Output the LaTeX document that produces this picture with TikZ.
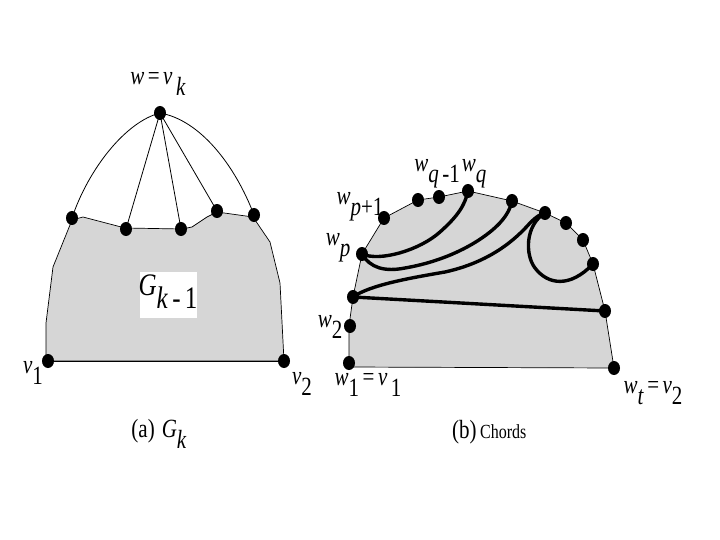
\documentclass[tikz,border=0pt]{standalone}
\usepackage{graphicx}
\usepackage{fontspec}
\setmainfont{Liberation Serif}
\usetikzlibrary{shapes.geometric}
\newcommand{\sbx}[1]{\raisebox{-0.42em}{#1}}
\newcommand{\tl}[1]{\scalebox{1}[1.25]{#1}}
\tikzset{
  dot/.style={ellipse,fill=black,inner sep=0pt,minimum width=12pt,minimum height=14pt},
  lab/.style={inner sep=0pt,font=\fontsize{21}{21}\selectfont},
  region/.style={fill=black!16,draw=black,line width=0.7pt,line join=round},
  thin edge/.style={draw=black,line width=0.8pt},
  chord/.style={draw=black,line width=3.4pt,line cap=round,line join=round}
}
\begin{document}
\begin{tikzpicture}[x=1pt,y=-1pt]
\useasboundingbox (0,0) rectangle (720,540);
% ---------- (a) ----------
\path[region] (46,361) -- (46,323) -- (53,267) -- (72,220) -- (83,217) -- (125,228)
  -- (182,229) -- (192,227) -- (207,217) -- (217,212) -- (253,217) -- (270,242)
  -- (280,283) -- (284,361) -- cycle;
\node[fill=white,minimum width=57pt,minimum height=46pt,inner sep=0pt] (gbox) at (168,295) {};
\node[lab,font=\fontsize{25}{25}\selectfont] (glab) at (168,292) {\tl{\textit{G}\sbx{\textit{k}\,-\,1}}};
\node[dot] (wk) at (160,113) {};
\node[dot] (a1) at (72,218) {};
\node[dot] (a2) at (126,229) {};
\node[dot] (a3) at (181,229) {};
\node[dot] (a4) at (217,211) {};
\node[dot] (a5) at (254,215) {};
\node[dot] (av1) at (48,361) {};
\node[dot] (av2) at (284,361) {};
\draw[thin edge] (wk.center) .. controls (125,122) and (88,170) .. (a1.center);
\draw[thin edge] (wk.center) .. controls (200,120) and (235,165) .. (a5.center);
\draw[thin edge] (wk.center) -- (a2.center);
\draw[thin edge] (wk.center) -- (a3.center);
\draw[thin edge] (wk.center) -- (a4.center);
\draw[thin edge] (av1.center) -- (av2.center);
\node[lab] (lwk) at (158,84) {\tl{\textit{w}\,=\,\textit{v}\,\sbx{\textit{k}}}};
\node[lab] (lv1) at (33,373) {\tl{\textit{v}\sbx{1}}};
\node[lab] (lv2) at (302,384) {\tl{\textit{v}\sbx{2}}};
\node[lab,font=\fontsize{21}{21}\selectfont] (capa) at (159,434) {\tl{(a)\,\,\textit{G}\sbx{\textit{k}}}};
% ---------- (b) ----------
\path[region] (349,367) -- (349,326) -- (353,297) -- (362,254) -- (384,218) -- (418,200)
  -- (439,197) -- (468,191) -- (512,201) -- (545,213) -- (566,223) -- (583,240)
  -- (593,264) -- (605,311) -- (614,368) -- cycle;
\node[dot] (w1) at (349,363) {};
\node[dot] (w2) at (350,326) {};
\node[dot] (w3) at (353,297) {};
\node[dot] (wp) at (362,254) {};
\node[dot] (wp1) at (384,218) {};
\node[dot] (b1) at (418,200) {};
\node[dot] (wq1) at (439,197) {};
\node[dot] (wq) at (468,191) {};
\node[dot] (b2) at (512,201) {};
\node[dot] (b3) at (545,213) {};
\node[dot] (b4) at (566,223) {};
\node[dot] (b5) at (583,240) {};
\node[dot] (b6) at (593,264) {};
\node[dot] (b7) at (605,311) {};
\node[dot] (wt) at (614,368) {};
\draw[chord] (wp.center) .. controls (380,262) and (420,250) .. (440,232)
  .. controls (458,216) and (465,205) .. (wq.center);
\draw[chord] (wp.center) .. controls (370,268) and (385,272) .. (405,268)
  .. controls (440,262) and (470,248) .. (490,232)
  .. controls (505,220) and (510,210) .. (b2.center);
\draw[chord] (w3.center) .. controls (370,285) and (410,278) .. (445,272)
  .. controls (490,262) and (515,240) .. (530,223)
  .. controls (537,216) and (541,214) .. (b3.center);
\draw[chord] (b3.center) .. controls (525,225) and (525,255) .. (535,268)
  .. controls (548,285) and (570,288) .. (b6.center);
\draw[chord] (w3.center) -- (b7.center);
\node[lab] (lwp1) at (360,207) {\tl{\textit{w}\sbx{\textit{p}+1}}};
\node[lab] (lwp) at (338,248) {\tl{\textit{w}\sbx{\textit{p}}}};
\node[lab] (lwq1) at (437,174) {\tl{\textit{w}\sbx{\textit{q}\,-1}}};
\node[lab] (lwq) at (474,174) {\tl{\textit{w}\sbx{\textit{q}}}};
\node[lab] (lw2) at (330,327) {\tl{\textit{w}\sbx{2}}};
\node[lab] (lw1) at (368,385) {\tl{\textit{w}\sbx{1}\,=\,\textit{v}\,\sbx{1}}};
\node[lab] (lwt) at (653,393) {\tl{\textit{w}\sbx{\textit{t}}\,=\,\textit{v}\sbx{2}}};
\node[lab,anchor=base west] (capb) at (452,438) {\tl{(b)\,\fontsize{16}{16}\selectfont Chords}};
\end{tikzpicture}
\end{document}
